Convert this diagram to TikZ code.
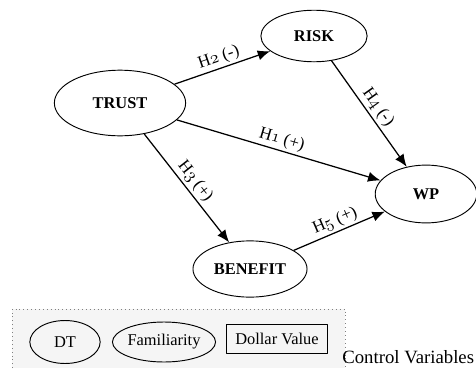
\documentclass[tikz,border=0pt]{standalone}
\usepackage{fontspec}
\setmainfont{Liberation Serif}
\usetikzlibrary{arrows.meta,shapes.geometric}

\begin{document}
\begin{tikzpicture}[x=0.64pt,y=-0.64pt,>={Latex[length=8pt,width=6.5pt]},
    line join=round,font=\fontsize{10.5}{12}\selectfont,
    construct/.style={ellipse,draw,line width=.6pt,inner sep=0pt,font=\fontsize{10.5}{12}\selectfont\bfseries},
    control/.style={ellipse,draw,line width=.6pt,inner sep=0pt},
    path/.style={->,line width=.8pt},
    hyp/.style={sloped,above,inner sep=1.5pt,font=\fontsize{11}{12}\selectfont}]
  \useasboundingbox (0,0) rectangle (476,368);

  % The four constructs of the model.
  \node[construct,minimum width=84pt,minimum height=42pt] (trust) at (120,103) {TRUST};
  \node[construct,minimum width=68pt,minimum height=33pt] (risk) at (314,36) {RISK};
  \node[construct,minimum width=65pt,minimum height=37pt] (wp) at (426,194) {WP};
  \node[construct,minimum width=73pt,minimum height=36pt] (benefit) at (250,269) {BENEFIT};

  % Hypothesised paths, labelled along the arrows.
  \draw[path] (trust) -- node[hyp] {H$\mathnormal{2}$ (-)} (risk);
  \draw[path] (trust) -- node[hyp] {H$\mathnormal{1}$ (+)} (wp);
  \draw[path] (trust) -- node[hyp] {H$\mathnormal{3}$ (+)} (benefit);
  \draw[path] (risk) -- node[hyp] {H$\mathnormal{4}$ (-)} (wp);
  \draw[path] (benefit) -- node[hyp] {H$\mathnormal{5}$ (+)} (wp);

  % Control variables in their shaded, dotted panel.
  \fill[gray!8] (12,309) rectangle (345,368);
  \draw[dotted,line width=.5pt,gray] (12,368) -- (12,309) -- (345,309) -- (345,368);
  \node[control,minimum width=45pt,minimum height=27.5pt] (dt) at (65,342) {DT};
  \node[control,minimum width=59pt,minimum height=25.6pt] (fam) at (164,342) {Familiarity};
  \node[draw,line width=.6pt,minimum width=65pt,minimum height=18pt,inner sep=0pt] (dollar) at (277,339) {Dollar Value};
  \node[anchor=west,inner sep=0pt,font=\fontsize{12}{14}\selectfont] (ctrl) at (342,357) {Control Variables};
\end{tikzpicture}
\end{document}
